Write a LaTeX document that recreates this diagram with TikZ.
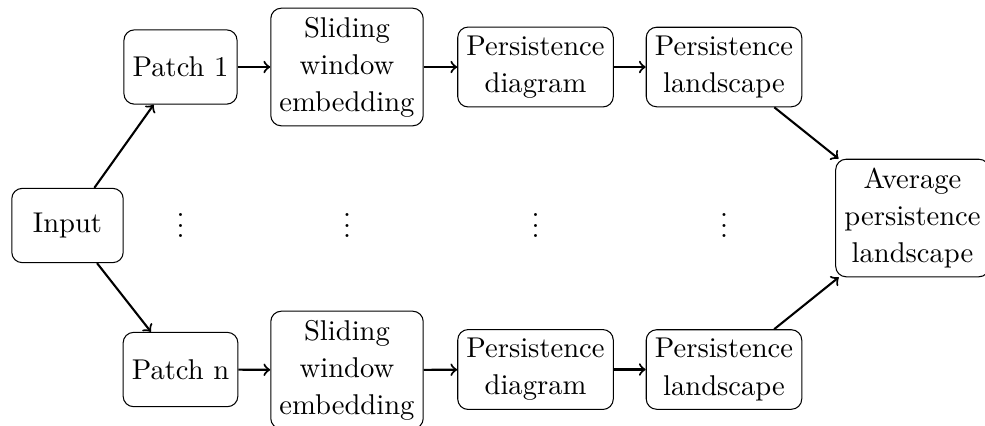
\documentclass[tikz,border=0pt]{standalone}
\begin{document}
\begin{tikzpicture}[x=0.383pt, y=-0.383pt,
  box/.style={draw, rounded corners, align=center,
    minimum width=1.5cm, minimum height=1cm,
    font=\fontsize{10.95}{14.2}\selectfont},
  flow/.style={->, thick},
  gap/.style={inner sep=0pt, font=\fontsize{10.95}{14.2}\selectfont}]
\useasboundingbox (0,0) rectangle (985,425);

% source and sink
\node[box] (inp) at (67.5,225.5) {Input};
\node[box] (avg) at (912.5,218) {Average\\persistence\\landscape};

% first patch pipeline
\node[box] (p1)  at (180.5,67) {Patch 1};
\node[box] (sw1) at (347,67)   {Sliding\\window\\embedding};
\node[box] (pd1) at (535.5,67) {Persistence\\diagram};
\node[box] (pl1) at (724,67)   {Persistence\\landscape};

% last patch pipeline
\node[box] (pn)  at (180.5,369.5) {Patch n};
\node[box] (swn) at (347,370)     {Sliding\\window\\embedding};
\node[box] (pdn) at (535.5,369.5) {Persistence\\diagram};
\node[box] (pln) at (724,369.5)   {Persistence\\landscape};

% elided patches in between
\node[gap] (d1) at (180.5,218) {$\vdots$};
\node[gap] (d2) at (347,218)   {$\vdots$};
\node[gap] (d3) at (535.5,218) {$\vdots$};
\node[gap] (d4) at (724,218)   {$\vdots$};

% connectors
\draw[flow] (inp) -- (p1);
\draw[flow] (inp) -- (pn);
\draw[flow] (p1) -- (sw1);
\draw[flow] (sw1) -- (pd1);
\draw[flow] (pd1) -- (pl1);
\draw[flow] (pn) -- (swn);
\draw[flow] (swn) -- (pdn);
\draw[flow] (pdn) -- (pln);
\draw[flow] (pl1) -- (avg);
\draw[flow] (pln) -- (avg);
\end{tikzpicture}
\end{document}
